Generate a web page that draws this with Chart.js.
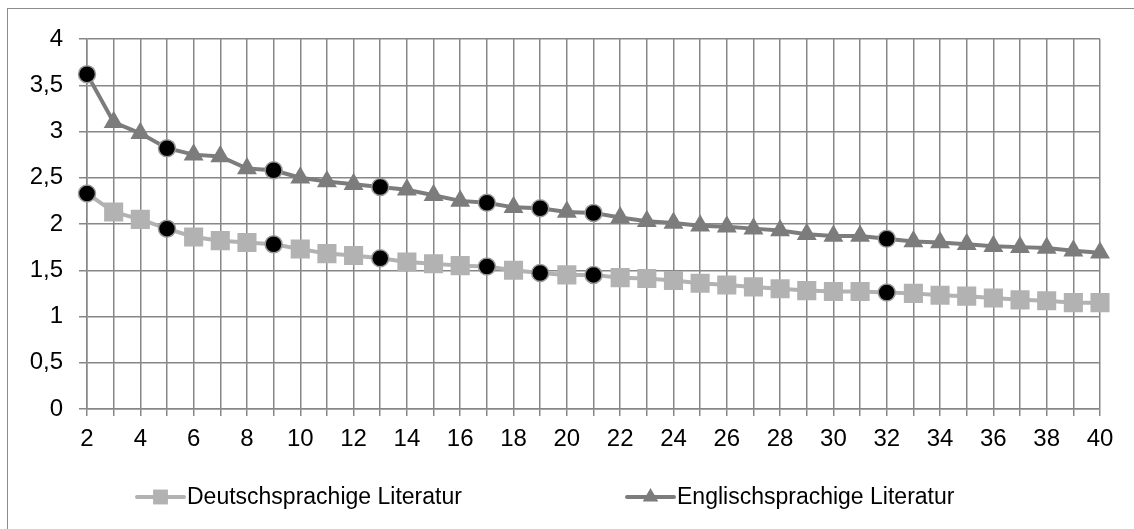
<!DOCTYPE html>
<html>
<head>
<meta charset="utf-8">
<script src="https://cdn.jsdelivr.net/npm/chart.js@4/dist/chart.umd.min.js"></script>
<style>
    html, body { margin: 0; padding: 0; background: #fff; overflow: hidden; }
    #frame {
        position: absolute; left: 7px; top: 8px;
        width: 1160px; height: 560px;
        border: 1px solid #8c8c8c;
    }
    #wrap { position: absolute; left: 0; top: 0; width: 1134px; height: 529px; }
</style>
</head>
<body>
<div id="frame"></div>
<div id="wrap"><canvas id="lineChart"></canvas></div>
<script>
const xLabels = [2, 3, 4, 5, 6, 7, 8, 9, 10, 11, 12, 13, 14, 15, 16, 17, 18, 19, 20, 21,
    22, 23, 24, 25, 26, 27, 28, 29, 30, 31, 32, 33, 34, 35, 36, 37, 38, 39, 40];

const germanValues = [2.33, 2.13, 2.05, 1.95, 1.86, 1.82, 1.80, 1.78, 1.73, 1.68,
    1.66, 1.63, 1.59, 1.57, 1.55, 1.54, 1.50, 1.47, 1.45, 1.45,
    1.42, 1.41, 1.39, 1.36, 1.34, 1.32, 1.30, 1.28, 1.27, 1.27,
    1.26, 1.25, 1.23, 1.22, 1.20, 1.18, 1.17, 1.15, 1.15];

const englishValues = [3.62, 3.10, 2.98, 2.82, 2.75, 2.73, 2.60, 2.58, 2.50, 2.46,
    2.43, 2.40, 2.37, 2.31, 2.25, 2.23, 2.18, 2.17, 2.13, 2.12,
    2.07, 2.03, 2.01, 1.98, 1.97, 1.95, 1.93, 1.89, 1.87, 1.87,
    1.84, 1.81, 1.80, 1.78, 1.76, 1.75, 1.74, 1.71, 1.69];

// x values marked with a black dot in both series
const highlighted = [2, 5, 9, 13, 17, 19, 21, 32];

const seriesLabels = ['Deutschsprachige Literatur', 'Englischsprachige Literatur'];
const yTicks = [0, 0.5, 1, 1.5, 2, 2.5, 3, 3.5, 4];

const GERMAN_COLOR = '#b2b2b2';
const ENGLISH_COLOR = '#7c7c7c';
const GRID_COLOR = '#878787';
const FAMILY = '"Liberation Sans", Arial, sans-serif';
const TICK_FONT = { family: FAMILY, size: 24 };
const LEGEND_SIZE = 23;

function isMarked(index) {
    return highlighted.includes(xLabels[index]);
}

function makeDataset(label, values, color, style, radius) {
    return {
        label: label,
        data: values,
        borderColor: color,
        borderWidth: 4,
        tension: 0,
        legendStyle: style,
        pointStyle: ctx => isMarked(ctx.dataIndex) ? 'circle' : style,
        pointRadius: ctx => isMarked(ctx.dataIndex) ? 8.5 : radius,
        pointHoverRadius: ctx => isMarked(ctx.dataIndex) ? 8.5 : radius,
        pointBackgroundColor: ctx => isMarked(ctx.dataIndex) ? '#000' : color,
        pointBorderColor: ctx => isMarked(ctx.dataIndex) ? '#9a9a9a' : color,
        pointBorderWidth: ctx => isMarked(ctx.dataIndex) ? 1.5 : 0
    };
}

// legend drawn by hand so it shows line + marker like the original
const lineLegend = {
    id: 'lineLegend',
    afterDraw(chart) {
        const ctx = chart.ctx;
        const y = chart.height - 32;
        const starts = [137, 627];
        chart.data.datasets.forEach((ds, i) => {
            const x0 = starts[i];
            ctx.save();
            ctx.strokeStyle = ds.borderColor;
            ctx.lineWidth = 4;
            ctx.lineCap = 'round';
            ctx.beginPath();
            ctx.moveTo(x0, y);
            ctx.lineTo(x0 + 47, y);
            ctx.stroke();
            ctx.fillStyle = ds.borderColor;
            Chart.helpers.drawPoint(ctx, {
                pointStyle: ds.legendStyle,
                radius: ds.legendStyle === 'rect' ? 10.5 : 9,
                borderWidth: 0
            }, x0 + 23.5, y);
            ctx.fillStyle = '#000';
            ctx.font = LEGEND_SIZE + 'px ' + FAMILY;
            ctx.textBaseline = 'middle';
            ctx.textAlign = 'left';
            ctx.fillText(ds.label, x0 + 50, y + 1);
            ctx.restore();
        });
    }
};

function createChart() {
    const ctx = document.getElementById('lineChart');

    new Chart(ctx, {
        type: 'line',
        data: {
            labels: xLabels,
            datasets: [
                makeDataset(seriesLabels[0], germanValues, GERMAN_COLOR, 'rect', 13.5),
                makeDataset(seriesLabels[1], englishValues, ENGLISH_COLOR, 'triangle', 11.5)
            ]
        },
        options: {
            responsive: true,
            maintainAspectRatio: false,
            animation: false,
            layout: { padding: { top: 39, right: 34, left: 0, bottom: 0 } },
            scales: {
                x: {
                    offset: false,
                    afterFit: scale => { scale.height = 120; },
                    grid: { color: GRID_COLOR, lineWidth: 1.5, tickLength: 7 },
                    border: { color: GRID_COLOR, width: 1.5 },
                    ticks: {
                        autoSkip: false,
                        maxRotation: 0,
                        padding: 9,
                        color: '#000',
                        font: TICK_FONT,
                        callback: (value, index) => index % 2 === 0 ? xLabels[index] : ''
                    }
                },
                y: {
                    min: 0,
                    max: 4,
                    afterFit: scale => { scale.width = 87; },
                    afterBuildTicks: scale => { scale.ticks = yTicks.map(v => ({ value: v })); },
                    grid: { color: GRID_COLOR, lineWidth: 1.5, tickLength: 8 },
                    border: { color: GRID_COLOR, width: 1.5 },
                    ticks: {
                        padding: 16,
                        color: '#000',
                        font: TICK_FONT,
                        callback: value => String(value).replace('.', ',')
                    }
                }
            },
            plugins: {
                legend: { display: false },
                tooltip: { enabled: false }
            }
        },
        plugins: [lineLegend]
    });
}

document.addEventListener('DOMContentLoaded', createChart);
</script>
</body>
</html>
